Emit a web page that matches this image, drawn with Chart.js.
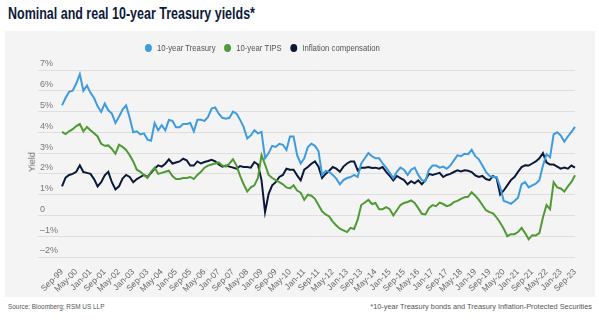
<!DOCTYPE html>
<html>
<head>
<meta charset="utf-8">
<script src="https://cdn.jsdelivr.net/npm/chart.js@4.4.0/dist/chart.umd.min.js"></script>
<style>
  body { margin: 0; width: 599px; height: 321px; background: #fff; position: relative; overflow: hidden;
         font-family: "Liberation Sans Narrow", "Liberation Sans", Arial, sans-serif; }
  #titulo { position: absolute; left: 8px; top: 5px; font-size: 16px; font-weight: bold; color: #0d1a3a; white-space: nowrap;
            transform: scaleX(0.78); transform-origin: left top; }
  #painel { position: absolute; left: 5px; top: 31px; width: 590px; height: 266px; background: #f4f4f4; }
  #grafico { position: absolute; left: 0; top: 31px; }
  #legenda { position: absolute; left: 145px; top: 43px; display: flex; align-items: center; font-size: 9px; color: #555; white-space: nowrap;
             transform: scaleX(0.86); transform-origin: left top; }
  #legenda span.ponto { display: inline-block; width: 8px; height: 8px; border-radius: 50%; margin-right: 6px; }
  #legenda span.item { display: inline-flex; align-items: center; margin-right: 10px; }
  #eixoY { position: absolute; left: 22px; top: 157px; font-size: 9px; color: #666; transform: rotate(-90deg); }
  #fonte { position: absolute; left: 8px; top: 302px; font-size: 8px; color: #555; transform: scaleX(0.8); transform-origin: left top; white-space: nowrap; }
  #nota { position: absolute; right: 7px; top: 302px; font-size: 8px; color: #555; transform: scaleX(0.92); transform-origin: right top; white-space: nowrap; }
</style>
</head>
<body>
<div id="titulo">Nominal and real 10-year Treasury yields*</div>
<div id="painel"></div>
<canvas id="grafico" width="599" height="266"></canvas>
<div id="legenda">
  <span class="item"><span class="ponto" style="background:#3f9be0"></span>10-year Treasury</span>
  <span class="item"><span class="ponto" style="background:#4f9a35"></span>10-year TIPS</span>
  <span class="item"><span class="ponto" style="background:#0b1838"></span>Inflation compensation</span>
</div>
<div id="eixoY">Yield</div>
<div id="fonte">Source: Bloomberg; RSM US LLP</div>
<div id="nota">*10-year Treasury bonds and Treasury Inflation-Protected Securities</div>

<script>
// Dados (a cada 2 meses, de Sep-99 a Sep-23)
const treasury10 = [5.30,5.65,5.95,6.00,6.35,6.80,6.00,6.25,5.90,5.65,
  5.25,4.98,5.38,5.06,4.90,4.45,4.75,5.10,5.30,4.70,
  4.00,4.05,3.90,3.95,3.65,3.60,4.45,4.10,4.34,4.10,
  4.60,4.55,4.25,4.25,4.40,4.40,4.45,4.05,4.60,4.60,
  4.55,4.74,5.14,5.20,4.90,4.70,4.65,4.70,5.00,4.90,
  4.60,4.25,3.70,3.85,4.10,3.95,4.02,2.75,3.00,3.35,
  3.30,3.45,3.40,3.15,3.80,3.80,2.90,2.50,2.75,3.29,
  3.45,3.35,3.10,1.95,2.15,2.10,1.95,1.77,1.50,1.70,
  1.80,1.85,1.95,1.85,2.50,2.75,3.00,2.85,2.75,2.75,
  2.50,2.30,2.05,1.80,2.10,2.30,2.20,1.95,2.20,2.30,
  1.95,1.70,1.65,2.20,2.40,2.40,2.30,2.35,2.25,2.40,
  2.65,2.89,2.85,2.97,2.95,3.16,2.85,2.70,2.40,2.10,
  1.90,1.85,1.85,1.37,0.70,0.64,0.56,0.70,0.85,1.50,
  1.60,1.35,1.45,1.53,1.70,2.40,2.95,2.80,3.90,4.00,
  3.85,3.55,3.80,4.02,4.26];

const tips10 = [4.02,3.92,4.05,4.15,4.30,4.40,4.05,4.26,4.10,3.95,
  3.80,3.45,3.35,3.37,3.20,2.97,3.40,3.30,3.15,2.90,
  2.60,2.20,2.10,1.95,1.80,2.10,2.30,2.00,2.05,2.10,
  2.15,1.90,1.75,1.75,1.80,1.80,1.85,1.75,1.95,2.10,
  2.30,2.40,2.45,2.50,2.55,2.40,2.35,2.50,2.70,2.40,
  1.90,1.50,1.15,1.35,1.45,1.80,2.90,2.45,1.95,1.80,
  1.70,1.60,1.50,1.35,1.30,1.45,1.20,1.10,0.75,1.00,
  0.95,0.80,0.50,0.20,0.05,-0.05,-0.30,-0.48,-0.64,-0.72,
  -0.80,-0.60,-0.65,-0.20,0.50,0.62,0.75,0.55,0.60,0.30,
  0.30,0.40,0.30,0.00,0.25,0.50,0.60,0.65,0.72,0.60,
  0.35,0.08,0.05,0.35,0.50,0.45,0.62,0.55,0.45,0.50,
  0.64,0.70,0.80,0.88,0.90,1.12,0.95,0.75,0.50,0.25,
  0.16,0.10,-0.10,-0.35,-0.64,-1.00,-0.90,-0.90,-0.80,-0.60,
  -0.85,-1.15,-0.95,-0.96,-0.85,-0.10,0.50,0.30,1.60,1.35,
  1.30,1.15,1.40,1.61,1.93];

const inflacao = [1.40,1.82,1.95,2.00,2.10,2.41,2.09,2.05,2.00,1.75,
  1.40,1.60,1.93,2.10,1.60,1.25,1.40,1.77,1.95,1.85,
  1.60,1.75,1.85,1.95,1.85,2.05,2.25,2.41,2.35,2.49,
  2.70,2.50,2.55,2.60,2.73,2.65,2.40,2.40,2.60,2.50,
  2.57,2.62,2.68,2.60,2.45,2.35,2.40,2.35,2.30,2.25,
  2.38,2.33,2.33,2.30,2.57,2.45,1.70,0.16,1.04,1.45,
  1.60,1.85,1.95,2.25,2.20,2.20,1.93,1.69,2.20,2.33,
  2.49,2.60,2.35,1.80,2.00,2.15,2.33,2.25,2.10,2.35,
  2.50,2.60,2.60,2.17,2.30,2.30,2.33,2.28,2.30,2.25,
  2.33,2.10,1.90,1.69,1.90,1.80,1.70,1.50,1.65,1.55,
  1.69,1.50,1.70,2.00,1.95,2.00,2.05,1.85,1.95,2.00,
  2.09,2.17,2.12,2.17,2.15,2.09,1.93,1.85,1.90,1.75,
  1.70,1.90,1.80,1.00,1.20,1.45,1.70,1.85,2.10,2.33,
  2.41,2.40,2.50,2.60,2.75,3.00,2.55,2.45,2.45,2.35,
  2.25,2.30,2.25,2.40,2.30];

// Rotulos mensais (um ponto a cada 2 meses)
const mesesNomes = ["Jan","Feb","Mar","Apr","May","Jun","Jul","Aug","Sep","Oct","Nov","Dec"];
const categorias = [];
for (let i = 0; i < treasury10.length; i++) {
  const total = 8 + i * 2;
  const ano = 1999 + Math.floor(total / 12);
  categorias.push(mesesNomes[total % 12] + "-" + String(ano).slice(2));
}

Chart.defaults.font.family = "'Liberation Sans Narrow', 'Liberation Sans', Arial, sans-serif";

const ctx = document.getElementById("grafico").getContext("2d");
const grafico = new Chart(ctx, {
  type: "line",
  data: {
    labels: categorias,
    datasets: [
      { label: "10-year Treasury", data: treasury10, borderColor: "#3f9be0", borderWidth: 2, pointRadius: 0, tension: 0 },
      { label: "10-year TIPS", data: tips10, borderColor: "#4f9a35", borderWidth: 2, pointRadius: 0, tension: 0 },
      { label: "Inflation compensation", data: inflacao, borderColor: "#0b1838", borderWidth: 2, pointRadius: 0, tension: 0 }
    ]
  },
  options: {
    responsive: false,
    animation: false,
    layout: { padding: { left: 40, right: 24, top: 39, bottom: 2 } },
    plugins: {
      legend: { display: false },
      tooltip: { enabled: false }
    },
    scales: {
      x: {
        grid: { display: false },
        border: { display: false },
        afterFit: (scale) => { scale.height = 38; },
        ticks: {
          autoSkip: false,
          minRotation: 45,
          maxRotation: 45,
          padding: 2,
          color: "#666",
          font: { size: 8.5 },
          callback: function (val, idx) {
            return idx % 4 === 0 ? this.getLabelForValue(val) : null;
          }
        }
      },
      y: {
        min: -2,
        max: 7,
        border: { display: false },
        afterFit: (scale) => { scale.width = 22; },
        grid: { color: "#dedede", lineWidth: 1, tickLength: 24 },
        ticks: {
          stepSize: 1,
          crossAlign: "far",
          labelOffset: -6,
          color: "#777",
          font: { size: 9 },
          callback: (v) => v === 0 ? "0" : (v < 0 ? "\u2013" + Math.abs(v) : v) + "%"
        }
      }
    }
  }
});
</script>
</body>
</html>
